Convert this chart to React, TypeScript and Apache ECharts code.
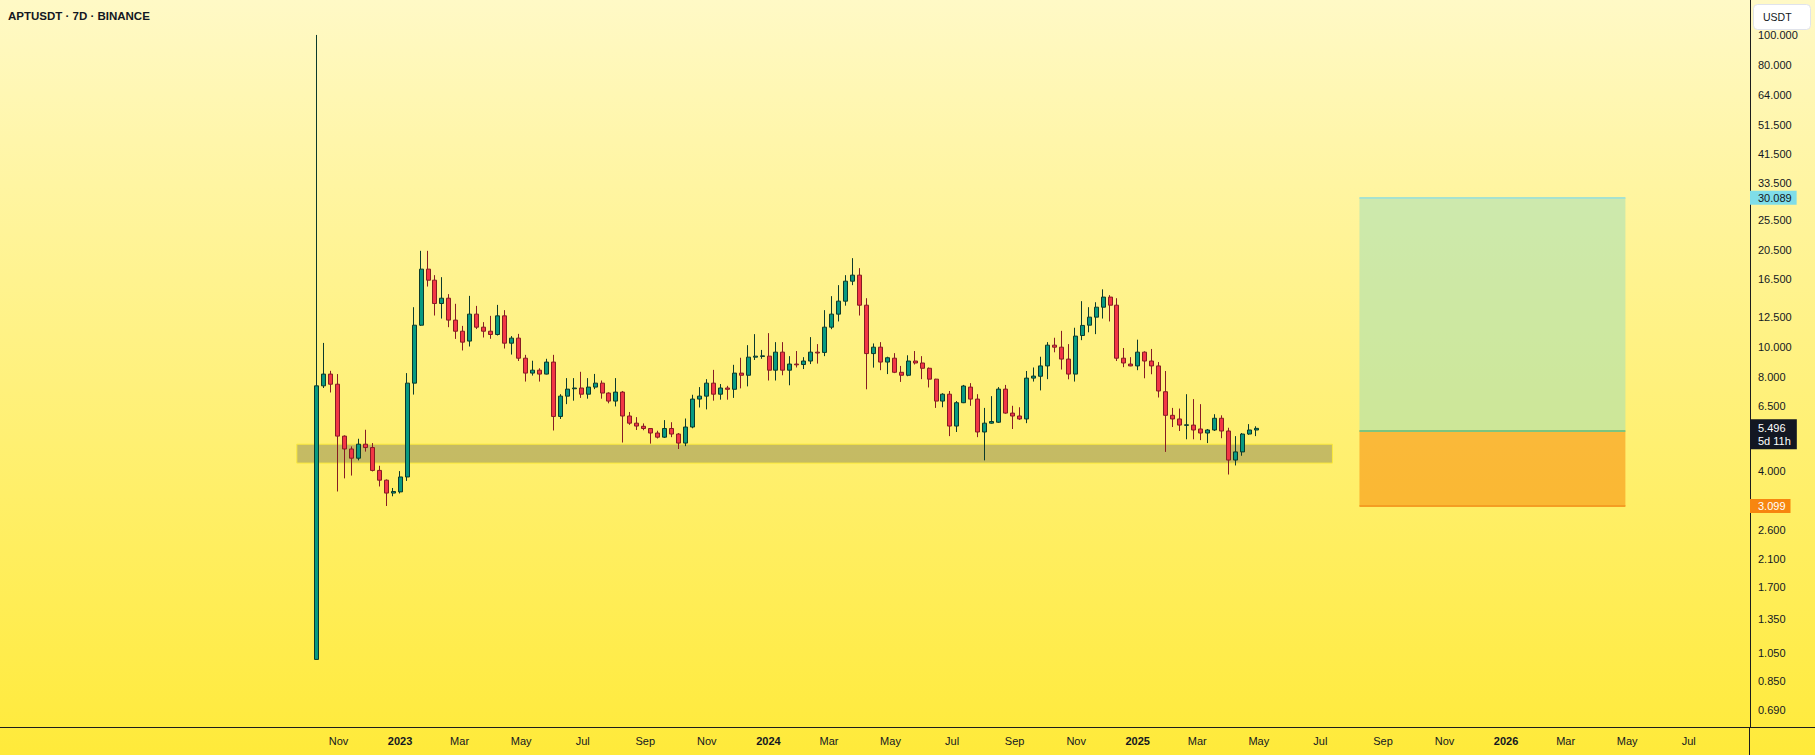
import React, { useEffect, useRef } from "react";
import * as echarts from "echarts";

const chartTitle = "APTUSDT · 7D · BINANCE";
const quoteCurrency = "USDT";
const firstCandle = "2022-10-01";

const opens = [
  1.0, 7.52, 8.2, 7.61, 5.19, 4.72, 4.41, 4.89, 4.77, 4.03, 3.75, 3.41, 3.44, 3.84, 7.67, 11.76, 17.78, 16.39, 13.8, 14.35,
  12.21, 11.25, 10.46, 12.76, 11.59, 11.25, 10.98, 12.6, 10.3, 10.69, 9.22, 8.26, 8.44, 8.2, 8.96, 6.0, 6.97, 7.36, 7.4, 7.07,
  7.45, 7.67, 7.13, 6.72, 7.18, 6.02, 5.71, 5.58, 5.49, 5.31, 5.15, 5.49, 5.27, 4.93, 5.55, 6.82, 6.97, 7.67, 7.07, 7.4,
  7.33, 8.26, 8.13, 9.29, 9.34, 9.36, 8.44, 9.64, 8.44, 8.83, 8.8, 9.03, 9.64, 9.62, 11.59, 12.76, 14.04, 16.27, 17.01, 13.63,
  9.54, 10.0, 8.96, 9.22, 8.31, 8.13, 9.03, 8.9, 8.56, 7.9, 6.72, 7.07, 5.59, 6.64, 7.45, 6.82, 5.35, 5.71, 5.75, 7.34,
  6.15, 6.02, 5.89, 7.96, 8.07, 8.71, 10.15, 10.0, 9.16, 8.2, 10.9, 11.76, 12.48, 13.43, 14.47, 13.63, 9.22, 8.83, 8.71, 9.64,
  9.03, 8.71, 7.2, 6.05, 5.89, 5.62, 5.63, 5.47, 5.31, 5.43, 5.92, 5.39, 4.35, 4.62, 5.27, 5.43,
];
const highs = [
  100.0, 10.32, 8.4, 8.2, 5.22, 4.81, 5.09, 5.44, 4.93, 4.17, 3.77, 3.54, 4.01, 8.26, 13.43, 20.35, 20.35, 17.01, 16.76, 14.79,
  13.77, 11.7, 14.6, 13.56, 12.03, 12.6, 13.66, 13.14, 10.85, 11.03, 9.45, 9.05, 8.56, 9.18, 9.45, 7.07, 7.96, 7.96, 8.34, 7.96,
  8.21, 7.82, 7.17, 7.96, 7.24, 6.2, 5.97, 5.7, 5.5, 5.4, 5.84, 5.75, 5.31, 5.91, 7.04, 7.45, 7.9, 8.46, 7.62, 7.52,
  8.78, 9.25, 10.15, 11.01, 9.8, 11.09, 10.38, 10.38, 9.36, 9.72, 9.29, 10.77, 10.23, 13.14, 14.57, 15.8, 17.01, 19.28, 17.91, 14.35,
  10.28, 10.38, 9.32, 9.57, 8.71, 9.42, 9.72, 9.36, 8.61, 7.92, 7.12, 7.24, 6.72, 7.57, 7.67, 7.07, 6.39, 6.97, 7.45, 7.57,
  6.49, 6.42, 8.39, 8.61, 9.32, 10.38, 10.72, 11.28, 10.23, 11.54, 14.04, 13.43, 13.93, 15.32, 14.68, 14.35, 9.94, 9.29, 10.57, 9.7,
  9.87, 8.96, 8.39, 6.39, 6.36, 7.07, 6.82, 6.57, 5.47, 6.1, 6.05, 5.52, 5.19, 5.31, 5.67, 5.58,
];
const lows = [
  1.0, 7.4, 7.16, 3.45, 3.8, 3.88, 4.34, 4.63, 4.0, 3.58, 3.1, 3.33, 3.4, 3.73, 7.05, 11.7, 15.64, 12.63, 12.35, 11.59,
  10.63, 9.76, 10.05, 11.43, 10.74, 10.64, 10.9, 9.9, 9.47, 9.03, 7.76, 8.11, 7.76, 8.18, 5.41, 5.89, 6.57, 6.74, 6.88, 6.84,
  7.34, 6.84, 6.61, 6.46, 4.95, 5.64, 5.43, 5.42, 4.91, 5.1, 5.12, 5.15, 4.72, 4.82, 5.5, 6.41, 6.32, 6.74, 6.79, 6.79,
  6.88, 7.38, 7.49, 9.1, 9.18, 7.82, 7.82, 8.13, 7.55, 8.61, 8.51, 8.83, 8.86, 9.36, 11.42, 12.09, 13.58, 15.8, 12.63, 7.33,
  8.6, 8.44, 8.2, 8.26, 7.74, 8.07, 8.8, 7.9, 7.43, 6.39, 6.42, 5.19, 5.35, 6.62, 6.49, 5.15, 4.34, 5.69, 5.72, 6.12,
  5.47, 5.85, 5.71, 7.76, 7.27, 7.9, 9.63, 8.48, 7.89, 7.76, 10.53, 11.16, 11.01, 12.35, 12.09, 9.03, 8.63, 8.69, 8.44, 7.95,
  8.19, 6.9, 4.62, 5.55, 5.39, 5.07, 5.07, 5.04, 4.93, 5.39, 5.11, 3.91, 4.18, 4.49, 5.24, 5.19,
];
const closes = [
  7.52, 8.2, 7.61, 5.19, 4.72, 4.41, 4.89, 4.77, 4.03, 3.75, 3.41, 3.45, 3.84, 7.67, 11.76, 17.78, 16.39, 13.8, 14.35, 12.21,
  11.25, 10.38, 12.76, 11.59, 11.25, 10.98, 12.6, 10.3, 10.69, 9.22, 8.26, 8.44, 8.2, 8.96, 6.0, 6.97, 7.34, 7.4, 7.07, 7.45,
  7.67, 7.13, 6.72, 7.18, 6.02, 5.71, 5.59, 5.49, 5.31, 5.15, 5.49, 5.27, 4.93, 5.55, 6.82, 6.97, 7.67, 7.07, 7.4, 7.33,
  8.26, 8.13, 9.29, 9.36, 9.38, 8.44, 9.64, 8.44, 8.83, 8.78, 9.03, 9.64, 9.58, 11.59, 12.76, 14.04, 16.27, 17.01, 13.63, 9.54,
  10.0, 8.96, 9.25, 8.31, 8.13, 9.03, 8.9, 8.56, 7.9, 6.72, 7.07, 5.59, 6.64, 7.51, 6.82, 5.35, 5.71, 5.78, 7.34, 6.15,
  6.02, 5.89, 7.96, 8.08, 8.71, 10.15, 10.0, 9.16, 8.2, 10.85, 11.74, 12.48, 13.43, 14.47, 13.63, 9.22, 8.9, 8.71, 9.64, 9.03,
  8.71, 7.24, 6.05, 5.89, 5.63, 5.64, 5.43, 5.31, 5.43, 5.92, 5.39, 4.35, 4.62, 5.27, 5.43, 5.496,
];

const priceTicks = [0.69, 0.85, 1.05, 1.35, 1.7, 2.1, 2.6, 4, 6.5, 8, 10, 12.5, 16.5, 20.5, 25.5, 33.5, 41.5, 51.5, 64, 80, 100];
const monthNames = ["Jan", "Feb", "Mar", "Apr", "May", "Jun", "Jul", "Aug", "Sep", "Oct", "Nov", "Dec"];
const labelRange = ["2022-11-01T00:00:00", "2026-07-01T00:00:00"];
// bar time scale (candles, zones) and the time-scale labels as TradingView spaces them
const barTimeRange = ["2021-11-16 10:30", "2026-09-11 18:30"];
const labelTimeRange = ["2021-11-30 14:00", "2026-08-30 17:00"];
const priceRange = [0.6075, 129.4];

const zoneDates = ["2022-09-11", "2025-07-18 18:00"];
const zonePrices = [4.253, 4.889];

const positionDates = ["2025-08-14 22:00", "2026-05-09 10:00"];
const targetPrice = 30.089;
const entryPrice = 5.4;
const stopPrice = 3.099;
const lastPrice = 5.496;
const countdown = "5d 11h";

const FONT = "'Liberation Sans', Arial, sans-serif";
const TEXT = "#131722";
const DAY = 24 * 3600 * 1000;
const WEEK = 7 * DAY;

export default function App() {
  const ref = useRef<HTMLDivElement>(null);

  useEffect(() => {
    if (!ref.current) return;
    const chart = echarts.init(ref.current, undefined, { renderer: "svg" });
    const t0 = new Date(firstCandle + "T00:00:00").getTime();
    const candles = opens.map((o, i) => [t0 + i * WEEK, o, closes[i], lows[i], highs[i]]);
    const labelFrom = new Date(labelRange[0]).getTime();
    const labelTo = new Date(labelRange[1]).getTime();

    const axisLabelLine = (value: number, text: string, bg: string, color: string, extra: any = {}) => ({
      yAxis: value,
      lineStyle: { color: "rgba(0,0,0,0)", width: 0 },
      label: {
        show: true,
        position: "end",
        distance: 0,
        formatter: text,
        backgroundColor: bg,
        color,
        fontFamily: FONT,
        fontSize: 11,
        padding: [2, 5, 1, 8],
        ...extra,
      },
    });
    const segment = (price: number, color: string) => [
      { coord: [positionDates[0], price], lineStyle: { color, width: 2, type: "solid" }, label: { show: false } },
      { coord: [positionDates[1], price] },
    ];

    chart.setOption({
      animation: false,
      backgroundColor: "transparent",
      title: {
        text: chartTitle,
        left: 8,
        top: 10,
        padding: 0,
        textStyle: { fontFamily: FONT, fontSize: 11.5, fontWeight: "bold", color: TEXT },
      },
      grid: { left: 0, right: 65, top: 0, bottom: 28, containLabel: false, outerBoundsMode: "none" },
      xAxis: [
        {
          type: "time",
          position: "bottom",
          min: barTimeRange[0],
          max: barTimeRange[1],
          axisLine: { show: true, lineStyle: { color: "#1c1c1c", width: 1 } },
          axisTick: { show: false },
          splitLine: { show: false },
          axisLabel: { show: false },
        },
        {
          type: "time",
          position: "bottom",
          offset: 0,
          min: labelTimeRange[0],
          max: labelTimeRange[1],
          splitNumber: 57,
          minInterval: 28 * DAY,
          maxInterval: 31 * DAY,
          axisLine: { show: false },
          axisTick: { show: false },
          splitLine: { show: false },
          axisLabel: {
            margin: 8,
            fontFamily: FONT,
            fontSize: 11,
            color: TEXT,
            showMinLabel: false,
            showMaxLabel: false,
            formatter: (v: number) => {
              if (v < labelFrom || v > labelTo) return "";
              const d = new Date(v);
              const m = d.getMonth();
              if (d.getDate() !== 1) return "";
              if (m === 0) return "{y|" + d.getFullYear() + "}";
              return m % 2 === 0 ? monthNames[m] : "";
            },
            rich: { y: { fontWeight: "bold", fontFamily: FONT, fontSize: 11, color: TEXT } },
          },
        },
      ],
      yAxis: {
        type: "log",
        logBase: 10,
        position: "right",
        min: priceRange[0],
        max: priceRange[1],
        axisLine: { show: true, lineStyle: { color: "#1c1c1c", width: 1 } },
        axisTick: { show: false },
        splitLine: { show: false },
        axisLabel: {
          customValues: priceTicks,
          margin: 8,
          fontFamily: FONT,
          fontSize: 11,
          color: TEXT,
          formatter: (v: number) => v.toFixed(3),
        },
      },
      graphic: [
        { type: "line", shape: { x1: 1749.5, y1: 727.5, x2: 1815, y2: 727.5 }, style: { stroke: "#1c1c1c", lineWidth: 1 }, silent: true },
        { type: "line", shape: { x1: 1749.5, y1: 727, x2: 1749.5, y2: 755 }, style: { stroke: "#1c1c1c", lineWidth: 1 }, silent: true },
        {
          type: "rect",
          right: 4,
          top: 4,
          shape: { width: 57, height: 25, r: 4 },
          style: { fill: "#ffffff", stroke: "#e0e3eb", lineWidth: 1 },
          silent: true,
          z: 100,
        },
        {
          type: "text",
          left: 1763,
          top: 11,
          style: { text: quoteCurrency, fill: TEXT, font: "10.5px " + FONT },
          silent: true,
          z: 101,
        },
      ],
      series: [
        {
          type: "candlestick",
          xAxisIndex: 0,
          data: candles,
          barWidth: 4.5,
          itemStyle: {
            color: "#089981",
            color0: "#f23645",
            borderColor: "#0b3a2c",
            borderColor0: "#861b24",
            borderWidth: 1,
          },
          markArea: {
            silent: true,
            data: [
              [
                {
                  xAxis: zoneDates[0],
                  yAxis: zonePrices[1],
                  itemStyle: { color: "rgba(75,75,75,0.32)", borderColor: "#fbe93c", borderWidth: 1 },
                },
                { xAxis: zoneDates[1], yAxis: zonePrices[0] },
              ],
              [
                { xAxis: positionDates[0], yAxis: targetPrice, itemStyle: { color: "rgba(155,222,188,0.5)" } },
                { xAxis: positionDates[1], yAxis: entryPrice },
              ],
              [
                { xAxis: positionDates[0], yAxis: entryPrice, itemStyle: { color: "rgba(245,130,0,0.5)" } },
                { xAxis: positionDates[1], yAxis: stopPrice },
              ],
            ],
          },
          markLine: {
            silent: true,
            symbol: ["none", "none"],
            data: [
              segment(targetPrice, "#a6e2cf"),
              segment(entryPrice, "#7cc47e"),
              segment(stopPrice, "#f59d22"),
              axisLabelLine(targetPrice, targetPrice.toFixed(3), "#7fdde9", TEXT),
              axisLabelLine(stopPrice, stopPrice.toFixed(3), "#f7860f", "#ffffff"),
              axisLabelLine(lastPrice, lastPrice.toFixed(3) + "\n" + countdown, "#131722", "#ffffff", {
                lineHeight: 13,
                padding: [2, 6, 2, 8],
                offset: [0, 6],
              }),
            ],
          },
        },
      ],
    });
    return () => chart.dispose();
  }, []);

  return (
    <div
      style={{
        position: "fixed",
        left: 0,
        top: 0,
        width: 1815,
        height: 755,
        background: "linear-gradient(to bottom, #fff9c6 0%, #fff38f 37%, #ffed55 80%, #ffea3a 100%)",
      }}
    >
      <div ref={ref} style={{ width: 1815, height: 755 }} />
    </div>
  );
}
